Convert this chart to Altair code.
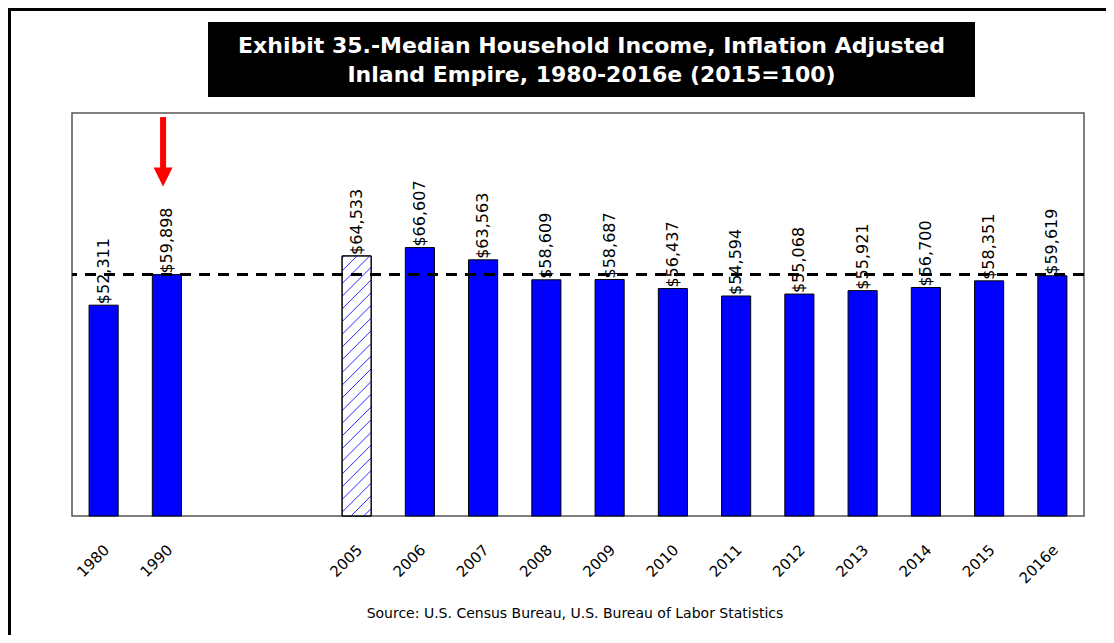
import altair as alt
import pandas as pd

# ---- data ----
years = ["1980", "1990", "2005", "2006", "2007", "2008", "2009", "2010",
         "2011", "2012", "2013", "2014", "2015", "2016e"]
incomes = [52311, 59898, 64533, 66607, 63563, 58609, 58687, 56437,
           54594, 55068, 55921, 56700, 58351, 59619]
# x slots, with two empty gap positions between 1990 and 2005
slots = ["1980", "1990", "gap1", "gap2"] + years[2:]
hatched_year = "2005"      # estimate bar, drawn hatched
reference_year = "1990"    # dashed reference line and red arrow
title_lines = ["Exhibit 35.-Median Household Income, Inflation Adjusted",
               "Inland Empire, 1980-2016e (2015=100)"]
source_text = "Source:  U.S. Census Bureau, U.S. Bureau of Labor Statistics"

df = pd.DataFrame({"year": years, "income": incomes})

# ---- layout ----
W, H = 1012, 403
YMAX = 100000
PIN, POUT = 0.54, 0.27
N = len(slots)

xband = alt.Scale(domain=slots, paddingInner=PIN, paddingOuter=POUT)
xlin = alt.Scale(domain=[0, N], nice=False, zero=False)
yscale = alt.Scale(domain=[0, YMAX], nice=False, zero=True)

label_expr = "indexof(datum.value, 'gap') === 0 ? '' : datum.value"

bars = alt.Chart(df).mark_bar(stroke="black", strokeWidth=1).encode(
    x=alt.X("year:N", scale=xband, sort=slots, title=None,
            axis=alt.Axis(labelAngle=-45, labelAlign="right", labelBaseline="middle",
                          labelPadding=31, labelOffset=3, ticks=False, domain=False,
                          labelFont="DejaVu Sans", labelFontSize=15, labelColor="black",
                          labelExpr=label_expr, labelOverlap=False)),
    y=alt.Y("income:Q", scale=yscale, axis=None),
    fill=alt.condition(alt.datum.year == hatched_year, alt.value("white"), alt.value("#0000FF")),
)

# hatch for the estimate bar (45 degree lines clipped to the bar)
bar_top = incomes[years.index(hatched_year)]
slot_i = slots.index(hatched_year)
rise = (W / N) * (1 - PIN) * YMAX / H
spacing = 12.7 * YMAX / H
hatch = (
    alt.Chart(alt.sequence(-4, 30, 1, as_="k"))
    .transform_calculate(y0=f"datum.k * {spacing} + {0.3 * spacing}")
    .transform_calculate(ya="max(datum.y0, 0)", yb=f"min(datum.y0 + {rise}, {bar_top})")
    .transform_filter("datum.ya < datum.yb")
    .transform_calculate(
        xa=f"{slot_i + POUT} + {1 - PIN} * (datum.ya - datum.y0) / {rise}",
        xb=f"{slot_i + POUT} + {1 - PIN} * (datum.yb - datum.y0) / {rise}",
    )
    .mark_rule(color="#2a2aff", strokeWidth=1)
    .encode(
        x=alt.X("xa:Q", scale=xlin, axis=None),
        x2="xb:Q",
        y=alt.Y("ya:Q", scale=yscale, axis=None),
        y2="yb:Q",
    )
)

outline = alt.Chart(df).transform_filter(alt.datum.year == hatched_year).mark_bar(
    fill=None, stroke="black", strokeWidth=1
).encode(
    x=alt.X("year:N", scale=xband, sort=slots, axis=None),
    y=alt.Y("income:Q", scale=yscale, axis=None),
)

labels = alt.Chart(df).mark_text(
    angle=270, align="left", baseline="middle", dx=1,
    font="DejaVu Sans", fontSize=16, color="black"
).encode(
    x=alt.X("year:N", scale=xband, sort=slots, axis=None),
    y=alt.Y("income:Q", scale=yscale, axis=None),
    text=alt.Text("income:Q", format="$,.0f"),
)

ref = alt.Chart(pd.DataFrame({"ref": [incomes[years.index(reference_year)]]})).mark_rule(
    color="black", strokeWidth=3, strokeDash=[11, 8]
).encode(y=alt.Y("ref:Q", scale=yscale, axis=None))

# red arrow pointing at the reference bar
arrow_df = pd.DataFrame({
    "pos": [slots.index(reference_year) + 0.44],
    "top": [99000], "base": [85800], "head": [84100],
})
shaft = alt.Chart(arrow_df).mark_rule(color="red", strokeWidth=6).encode(
    x=alt.X("pos:Q", scale=xlin, axis=None),
    y=alt.Y("top:Q", scale=yscale, axis=None),
    y2="base:Q",
)
head = alt.Chart(arrow_df).mark_point(
    shape="M-1,-1L1,-1L0,1Z", size=361, filled=True, color="red", opacity=1, strokeWidth=0
).encode(
    x=alt.X("pos:Q", scale=xlin, axis=None),
    y=alt.Y("head:Q", scale=yscale, axis=None),
)

# ---- decorations (title box, frame, source) ----
one = pd.DataFrame({"a": [0]})
title_box = alt.Chart(one).mark_rect(color="black").encode(
    x=alt.value(136), x2=alt.value(903), y=alt.value(-91), y2=alt.value(-16)
)
t1 = alt.Chart(one).mark_text(
    font="DejaVu Sans", fontWeight="bold", fontSize=22, color="white",
    align="center", baseline="middle", text=title_lines[0]
).encode(x=alt.value(519.5), y=alt.value(-67))
t2 = alt.Chart(one).mark_text(
    font="DejaVu Sans", fontWeight="bold", fontSize=22, color="white",
    align="center", baseline="middle", text=title_lines[1]
).encode(x=alt.value(519.5), y=alt.value(-38))
frame_top = alt.Chart(one).mark_rule(color="black", strokeWidth=3).encode(
    x=alt.value(-64), x2=alt.value(1040), y=alt.value(-103.5)
)
frame_left = alt.Chart(one).mark_rule(color="black", strokeWidth=3).encode(
    x=alt.value(-62.5), y=alt.value(-105), y2=alt.value(530)
)
source = alt.Chart(one).mark_text(
    font="DejaVu Sans", fontSize=14, color="black", align="center", baseline="middle",
    text=source_text
).encode(x=alt.value(503), y=alt.value(501))

chart = alt.layer(
    title_box, t1, t2, frame_top, frame_left,
    bars, hatch, outline, labels, ref, shaft, head, source
).resolve_scale(x="independent").properties(
    width=W, height=H,
    autosize=alt.AutoSizeParams(type="none"),
    padding={"left": 64, "top": 105, "right": 22, "bottom": 119},
    background="white",
).configure_view(stroke="#555555", strokeWidth=1.5)

chart.save("out.html", embed_options={"renderer": "svg", "actions": False})
